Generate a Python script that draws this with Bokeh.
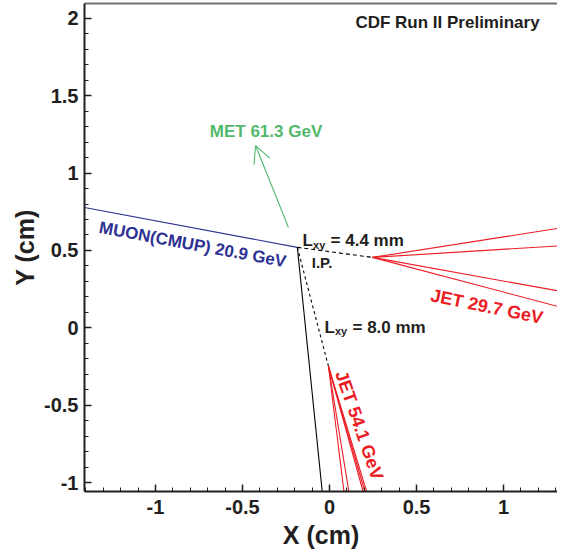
from bokeh.plotting import figure
from bokeh.models import Range1d, LinearAxis, SingleIntervalTicker, FixedTicker, Arrow, OpenHead
from bokeh.core.properties import value
from bokeh.embed import file_html
from bokeh.resources import INLINE
import math

# ---------------- data (cm) ----------------
ip = [-0.185, 0.52]              # primary vertex (I.P.)
sv1 = [0.247, 0.455]             # displaced vertex, Lxy = 4.4 mm
sv2 = [-0.006, -0.25]            # displaced vertex, Lxy = 8.0 mm
muon_end = [-1.408, 0.778]
track_end = [-0.042, -1.058]
met_start = [-0.236, 0.648]
met_end = [-0.425, 1.178]
jet1_end_x = [1.356, 1.356, 1.356, 1.356]
jet1_end_y = [0.650, 0.532, 0.230, 0.125]
jet2_end_x = [0.083, 0.111, 0.193, 0.203, 0.213]
jet2_end_y = [-1.058, -1.058, -1.058, -1.058, -1.058]

x_ticks = [-1, -0.5, 0, 0.5, 1]
x_tick_labels = ["-1", "-0.5", "0", "0.5", "1"]
y_ticks = [-1, -0.5, 0, 0.5, 1, 1.5, 2]
y_tick_labels = ["-1", "-0.5", "0", "0.5", "1", "1.5", "2"]

# annotation texts and anchors
title_text = "CDF Run II Preliminary"
title_pos = [0.678, 1.973]
met_text = "MET 61.3 GeV"
met_pos = [-0.365, 1.266]
muon_text = "MUON(CMUP) 20.9 GeV"
muon_pos = [-0.787, 0.538]
jet1_text = "JET  29.7 GeV"
jet1_pos = [0.918, 0.134]
jet2_text = "JET  54.1 GeV"
jet2_pos = [0.176, -0.645]
ip_text = "I.P."
ip_pos = [-0.043, 0.419]
lxy_values = ["= 4.4 mm", "= 8.0 mm"]
lxy_x = [-0.155, -0.029]
lxy_y = [0.564, 0.002]

# ---------------- style ----------------
FONT = "Liberation Sans"
RED = "#ec1c24"
BLUE = "#2e3192"
GREEN = "#52b96c"
DARK = "#231f20"

p = figure(width=557, height=551,
           x_range=Range1d(-1.408, 1.310), y_range=Range1d(-1.058, 2.096),
           output_backend="svg", toolbar_location=None,
           min_border_left=84, min_border_right=0, min_border_top=3, min_border_bottom=60)
p.outline_line_color = None
p.grid.visible = False
p.background_fill_color = "white"

for ax, ticks, labels in ((p.xaxis[0], x_ticks, x_tick_labels), (p.yaxis[0], y_ticks, y_tick_labels)):
    ax.ticker = SingleIntervalTicker(interval=0.5, num_minor_ticks=5)
    ax.major_label_overrides = {float(t): l for t, l in zip(ticks, labels)}
    ax.axis_line_color = DARK
    ax.axis_line_width = 2
    ax.major_tick_in = 7
    ax.major_tick_out = 0
    ax.minor_tick_in = 4
    ax.minor_tick_out = 0
    ax.major_tick_line_color = DARK
    ax.minor_tick_line_color = DARK
    ax.major_tick_line_width = 1.5
    ax.minor_tick_line_width = 1
    ax.major_label_text_font = FONT
    ax.major_label_text_font_style = "bold"
    ax.major_label_text_font_size = "20px"
    ax.major_label_text_color = DARK
    ax.axis_label_text_font = FONT
    ax.axis_label_text_font_style = "bold"
    ax.axis_label_text_font_size = "25px"
    ax.axis_label_text_color = DARK

p.xaxis[0].axis_label = "X (cm)"
p.xaxis[0].major_label_standoff = 8
p.xaxis[0].axis_label_standoff = 4
p.yaxis[0].axis_label = "Y (cm)"
p.yaxis[0].major_label_standoff = 6
p.yaxis[0].axis_label_standoff = 2

top = LinearAxis(ticker=FixedTicker(ticks=[]), axis_line_color="#707070", axis_line_width=2,
                 major_tick_in=0, major_tick_out=0, minor_tick_in=0, minor_tick_out=0,
                 major_label_standoff=0)
p.add_layout(top, "above")

# ---------------- tracks ----------------
p.line([ip[0], muon_end[0]], [ip[1], muon_end[1]], line_color=BLUE, line_width=1.1)
p.line([ip[0], track_end[0]], [ip[1], track_end[1]], line_color="black", line_width=1.1)
p.line([ip[0], sv1[0]], [ip[1], sv1[1]], line_color="black", line_width=1.1, line_dash="4 3")
p.line([ip[0], sv2[0]], [ip[1], sv2[1]], line_color="black", line_width=1.1, line_dash="3 3")
p.segment(x0=[sv1[0]] * len(jet1_end_x), y0=[sv1[1]] * len(jet1_end_x),
          x1=jet1_end_x, y1=jet1_end_y, line_color=RED, line_width=1.1)
p.segment(x0=[sv2[0]] * len(jet2_end_x), y0=[sv2[1]] * len(jet2_end_x),
          x1=jet2_end_x, y1=jet2_end_y, line_color=RED, line_width=1.1)

p.add_layout(Arrow(end=OpenHead(size=17, line_color=GREEN, line_width=1.1),
                   x_start=met_start[0], y_start=met_start[1], x_end=met_end[0], y_end=met_end[1],
                   line_color=GREEN, line_width=1.1))

# ---------------- labels ----------------
def label(txt, pos, color, size="17px", angle=0.0):
    p.text(x=[pos[0]], y=[pos[1]], text=[txt], angle=angle, text_color=color,
           text_font=value(FONT), text_font_style="bold", text_font_size=size,
           text_align="center", text_baseline="middle")

label(title_text, title_pos, DARK)
label(met_text, met_pos, GREEN)
label(muon_text, muon_pos, BLUE, angle=math.radians(-10.5))
label(jet1_text, jet1_pos, RED, size="18px", angle=math.radians(-11.5))
label(jet2_text, jet2_pos, RED, size="18px", angle=math.radians(-71))
label(ip_text, ip_pos, DARK, size="15px")

common = dict(text_color=DARK, text_font=value(FONT), text_font_style="bold",
              text_align="left", text_baseline="alphabetic")
p.text(x=lxy_x, y=lxy_y, text=["L", "L"], text_font_size="17px", **common)
p.text(x=lxy_x, y=lxy_y, text=["xy", "xy"], text_font_size="11px", x_offset=10.5, y_offset=4, **common)
p.text(x=lxy_x, y=lxy_y, text=lxy_values, text_font_size="17px", x_offset=28, **common)

open("out.html", "w").write(file_html(p, INLINE))
